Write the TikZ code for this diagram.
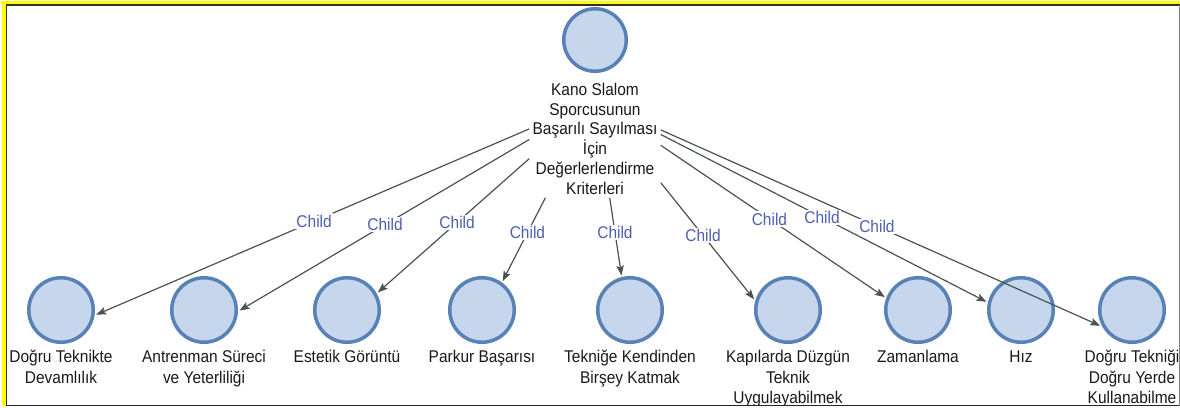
\documentclass[tikz,border=0pt]{standalone}
\usepackage{fontspec}
\setmainfont{Liberation Sans}[FakeStretch=0.91]
\usetikzlibrary{arrows.meta,fit,intersections}

\definecolor{nodefill}{RGB}{198,214,236}
\definecolor{nodeline}{RGB}{88,130,182}
\definecolor{edgecol}{RGB}{72,84,78}
\definecolor{lblcol}{RGB}{78,94,176}
\definecolor{txtcol}{RGB}{25,25,25}
\definecolor{frameyellow}{RGB}{255,255,0}
\definecolor{framedark}{RGB}{50,50,30}

\newcommand{\firstline}{\rule{0pt}{16pt}}

\tikzset{
  ball/.style={circle, draw=nodeline, fill=nodefill, line width=3.5pt, minimum size=64.5pt, inner sep=0pt},
  rootball/.style={ball, minimum size=62.5pt},
  caption/.style={anchor=north, align=center, inner sep=0pt, text=txtcol,
    font=\fontsize{17}{20.3}\selectfont},
  rootcaption/.style={caption, font=\fontsize{17}{19.8}\selectfont},
  edge/.style={draw=edgecol, line width=1.2pt,
    -{Stealth[length=10pt,width=7.5pt,inset=2pt]}},
  lbl/.style={fill=white, inner sep=1.5pt, text=lblcol,
    font=\fontsize{17}{18}\selectfont},
  box/.style={inner sep=0pt, draw=none}
}

\begin{document}
\begin{tikzpicture}[x=1pt, y=-1pt]
\useasboundingbox (0,0) rectangle (1180,407);

% frame: yellow strips on top and left, thin rules round the canvas
\fill[frameyellow] (0.5,0.5) rectangle (1180,4.3);
\fill[frameyellow] (1.5,0.5) rectangle (5.8,406);
\draw[framedark, line width=1.3pt] (5.8,4.9) -- (1180,4.9);
\draw[framedark, line width=1.3pt] (6.5,4.3) -- (6.5,406);
\draw[black!85, line width=1.4pt] (5.8,405.5) -- (1180,405.5);
\draw[gray, line width=1.2pt] (1179.3,5) -- (1179.3,406);

\begin{scope}
\clip (7.2,5.6) rectangle (1178.7,404.8);

% root
\node[rootball] (rc) at (595,40) {};
\node[rootcaption] (rt) at (595,79) {\firstline Kano Slalom\\Sporcusunun\\Başarılı Sayılması\\İçin\\Değerlerlendirme\\Kriterleri};
\node[box, fit=(rc)(rt), inner sep=3pt] (root) {};

% children
\foreach \i/\x/\t in {
  1/61/{Doğru Teknikte\\Devamlılık},
  2/204/{Antrenman Süreci\\ve Yeterliliği},
  3/347/{Estetik Görüntü},
  4/482/{Parkur Başarısı},
  5/630/{Tekniğe Kendinden\\Birşey Katmak},
  6/788/{Kapılarda Düzgün\\Teknik\\Uygulayabilmek},
  7/918/{Zamanlama},
  8/1021/{Hız},
  9/1132/{Doğru Tekniği\\Doğru Yerde\\Kullanabilme}} {
  \node[ball] (c\i) at (\x,310) {};
  \node[caption] (l\i) at (\x,346.7) {\firstline\t};
  \node[box, fit=(c\i)(l\i)] (n\i) {};
}

% connectors: aimed centre to centre, ending on the child's circle
\foreach \i in {1,...,9} {
  \path[name path=e\i-p] (root.center) -- (n\i.center);
  \path[name path=k\i-p] (c\i.center) circle[radius=35.5pt];
  \path[name intersections={of=e\i-p and k\i-p, by={h\i}}];
  \draw[edge] (root) -- (h\i);
}

% connector labels
\foreach \i/\p in {1/0.526,2/0.537,3/0.556,4/0.598,5/0.57,6/0.56,7/0.54,8/0.533,9/0.525} {
  \path (root.center) -- node[lbl, pos=\p] {Child} (n\i.center);
}
\end{scope}
\end{tikzpicture}
\end{document}
